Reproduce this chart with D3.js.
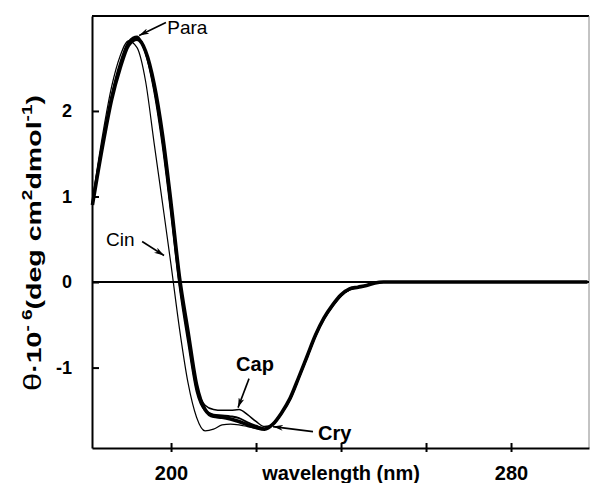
<!DOCTYPE html>
<html>
<head>
<meta charset="utf-8">
<script src="https://cdn.jsdelivr.net/npm/d3@7"></script>
<style>
  body { margin: 0; background: #fff; }
  svg text { font-family: "Liberation Sans", Arial, Helvetica, sans-serif; fill: #000; }
</style>
</head>
<body>
<svg id="chart"></svg>
<script>
// wavelength (nm) and mean residue ellipticity (x 10^-6)
const wavelengths = [181.5, 184, 186, 188, 190, 192, 194, 196, 198, 200, 202, 204, 206, 208, 210, 212, 214, 216, 218, 220,
    222, 224, 226, 228, 230, 232, 234, 236, 238, 240, 242, 244, 246, 248, 250, 255, 260, 270, 280, 290, 298];

const cry = [0.90, 1.62, 2.13, 2.50, 2.77, 2.84, 2.70, 2.32, 1.72, 0.92, 0.05, -0.58, -1.20, -1.49, -1.57, -1.58, -1.60, -1.63, -1.67, -1.70,
    -1.72, -1.66, -1.53, -1.36, -1.12, -0.87, -0.62, -0.42, -0.27, -0.15, -0.08, -0.06, -0.04, -0.01, 0, 0, 0, 0, 0, 0, 0];
const para = [0.93, 1.67, 2.18, 2.56, 2.81, 2.87, 2.68, 2.24, 1.60, 0.80, -0.05, -0.70, -1.28, -1.50, -1.55, -1.56, -1.57, -1.59, -1.64, -1.68,
    -1.71, -1.66, -1.53, -1.37, -1.13, -0.88, -0.63, -0.43, -0.28, -0.16, -0.09, -0.06, -0.04, -0.01, 0, 0, 0, 0, 0, 0, 0];
const cap = [0.92, 1.65, 2.16, 2.54, 2.79, 2.86, 2.69, 2.27, 1.64, 0.84, 0.00, -0.66, -1.22, -1.44, -1.49, -1.50, -1.50, -1.49, -1.55, -1.63,
    -1.69, -1.66, -1.54, -1.37, -1.13, -0.88, -0.63, -0.43, -0.28, -0.16, -0.09, -0.06, -0.04, -0.01, 0, 0, 0, 0, 0, 0, 0];
const cin = [0.96, 1.75, 2.28, 2.64, 2.82, 2.74, 2.35, 1.63, 0.92, 0.20, -0.55, -1.18, -1.58, -1.74, -1.72, -1.67, -1.66, -1.67, -1.69, -1.71,
    -1.72, -1.66, -1.54, -1.37, -1.13, -0.88, -0.63, -0.43, -0.28, -0.16, -0.09, -0.06, -0.04, -0.01, 0, 0, 0, 0, 0, 0, 0];

const xTicks = [200, 220, 240, 260, 280];
const xTickLabels = ['200', '', '', '', '280'];
const yTicks = [-1, 0, 1, 2];

// label text position and arrow tail/tip, in data units
const notes = [
    { label: 'Para', bold: false, text: [199.1, 2.895], from: [198.8, 3.035], to: [192.5, 2.883] },
    { label: 'Cin', bold: false, text: [184.7, 0.427], from: [193.2, 0.474], to: [198.35, 0.31] },
    { label: 'Cap', bold: true, text: [215.3, -1.035], from: [218.35, -1.129], to: [215.76, -1.468] },
    { label: 'Cry', bold: true, text: [234.6, -1.842], from: [233.4, -1.749], to: [224.0, -1.69] }
];

class CdSpectrum {
    constructor(_config) {
        this.config = {
            parentElement: _config.parentElement,
            containerWidth: _config.containerWidth || 590,
            containerHeight: _config.containerHeight || 483,
            margin: { top: 16, right: 1, bottom: 35, left: 92 }
        }

        this.series = [
            { name: 'Cry', values: cry, width: 3.6 },
            { name: 'Para', values: para, width: 1.9 },
            { name: 'Cap', values: cap, width: 1.5 },
            { name: 'Cin', values: cin, width: 1.2 }
        ];

        this.initVis();
    }

    initVis() {
        let vis = this;

        vis.width = vis.config.containerWidth - vis.config.margin.left - vis.config.margin.right;
        vis.height = vis.config.containerHeight - vis.config.margin.top - vis.config.margin.bottom;

        vis.xScale = d3.scaleLinear()
            .domain([181.4, 298.35])
            .range([0, vis.width]);

        vis.yScale = d3.scaleLinear()
            .domain([-1.94, 3.11])
            .range([vis.height, 0]);

        vis.xAxis = d3.axisBottom(vis.xScale)
            .tickValues(xTicks)
            .tickFormat((d, i) => xTickLabels[i])
            .tickSizeInner(4)
            .tickSizeOuter(0)
            .tickPadding(14);

        vis.yAxis = d3.axisLeft(vis.yScale)
            .tickValues(yTicks)
            .tickFormat(d => String(d))
            .tickSizeInner(-7)
            .tickSizeOuter(0)
            .tickPadding(20);

        vis.svg = d3.select(vis.config.parentElement)
            .attr('width', vis.config.containerWidth)
            .attr('height', vis.config.containerHeight);

        vis.svg.append('defs').append('marker')
            .attr('id', 'head')
            .attr('viewBox', '0 0 10 6')
            .attr('refX', 10)
            .attr('refY', 3)
            .attr('markerUnits', 'userSpaceOnUse')
            .attr('markerWidth', 10)
            .attr('markerHeight', 6)
            .attr('orient', 'auto')
            .append('path')
            .attr('d', 'M0,0 L10,3 L0,6 L3,3 Z')
            .attr('fill', '#000');

        vis.chart = vis.svg.append('g')
            .attr('transform', `translate(${vis.config.margin.left},${vis.config.margin.top})`);

        // top border solid, right border faint like the scan
        vis.chart.append('line')
            .attr('x1', 0).attr('x2', vis.width)
            .attr('y1', 0).attr('y2', 0)
            .attr('stroke', '#000')
            .attr('stroke-width', 1.8);
        vis.chart.append('line')
            .attr('x1', vis.width).attr('x2', vis.width)
            .attr('y1', 0).attr('y2', vis.height)
            .attr('stroke', '#888')
            .attr('stroke-width', 1);

        vis.xAxisG = vis.chart.append('g')
            .attr('class', 'axis x-axis')
            .attr('transform', `translate(0,${vis.height})`);

        vis.yAxisG = vis.chart.append('g')
            .attr('class', 'axis y-axis');

        vis.svg.append('text')
            .attr('x', vis.config.margin.left + vis.xScale(240))
            .attr('y', 480)
            .attr('text-anchor', 'middle')
            .style('font-size', '20px')
            .style('font-weight', 'bold')
            .text('wavelength (nm)');

        const yLabel = vis.svg.append('text')
            .attr('transform', 'translate(41,243) rotate(-90)')
            .attr('text-anchor', 'middle')
            .attr('textLength', 296)
            .attr('lengthAdjust', 'spacingAndGlyphs')
            .style('font-size', '21px')
            .style('font-weight', 'bold');
        yLabel.append('tspan').style('font-weight', 'normal').style('font-size', '24px').text('θ');
        yLabel.append('tspan').text('·10');
        yLabel.append('tspan').attr('dy', -9).style('font-size', '14px').text('- 6');
        yLabel.append('tspan').attr('dy', 9).text('(deg cm');
        yLabel.append('tspan').attr('dy', -9).style('font-size', '14px').text('2');
        yLabel.append('tspan').attr('dy', 9).text('dmol');
        yLabel.append('tspan').attr('dy', -9).style('font-size', '14px').text('-1');
        yLabel.append('tspan').attr('dy', 9).text(')');

        vis.renderVis();
    }

    renderVis() {
        let vis = this;

        vis.chart.append('line')
            .attr('x1', 0)
            .attr('x2', vis.width)
            .attr('y1', vis.yScale(0))
            .attr('y2', vis.yScale(0))
            .attr('stroke', '#000')
            .attr('stroke-width', 2);

        const line = d3.line()
            .x((d, i) => vis.xScale(wavelengths[i]))
            .y(d => vis.yScale(d))
            .curve(d3.curveMonotoneX);

        vis.chart.selectAll('.spectrum')
            .data(vis.series)
            .join('path')
            .attr('class', 'spectrum')
            .attr('d', d => line(d.values))
            .attr('fill', 'none')
            .attr('stroke', '#000')
            .attr('stroke-width', d => d.width)
            .attr('stroke-linejoin', 'round');

        vis.chart.selectAll('.arrow')
            .data(notes)
            .join('line')
            .attr('class', 'arrow')
            .attr('x1', d => vis.xScale(d.from[0]))
            .attr('y1', d => vis.yScale(d.from[1]))
            .attr('x2', d => vis.xScale(d.to[0]))
            .attr('y2', d => vis.yScale(d.to[1]))
            .attr('stroke', '#000')
            .attr('stroke-width', 1.6)
            .attr('marker-end', 'url(#head)');

        vis.chart.selectAll('.note')
            .data(notes)
            .join('text')
            .attr('class', 'note')
            .attr('x', d => vis.xScale(d.text[0]))
            .attr('y', d => vis.yScale(d.text[1]))
            .style('font-size', d => d.bold ? '20px' : '19px')
            .style('font-weight', d => d.bold ? 'bold' : 'normal')
            .text(d => d.label);

        vis.xAxisG.call(vis.xAxis);
        vis.xAxisG.selectAll('.tick line')
            .attr('y1', -5)
            .attr('stroke-width', 2);
        vis.xAxisG.selectAll('text')
            .style('font-size', '20px')
            .style('font-weight', 'bold')
            .attr('fill', '#000');

        vis.yAxisG.call(vis.yAxis);
        vis.yAxisG.selectAll('.tick line').attr('stroke-width', 2);
        vis.yAxisG.selectAll('text')
            .style('font-size', '18px')
            .style('font-weight', 'bold')
            .attr('fill', '#000');

        vis.svg.selectAll('.axis .domain').attr('stroke-width', 2);
        vis.svg.selectAll('.axis text').style('font-family', '"Liberation Sans", Arial, Helvetica, sans-serif');
    }
}

new CdSpectrum({ parentElement: '#chart' });
</script>
</body>
</html>
